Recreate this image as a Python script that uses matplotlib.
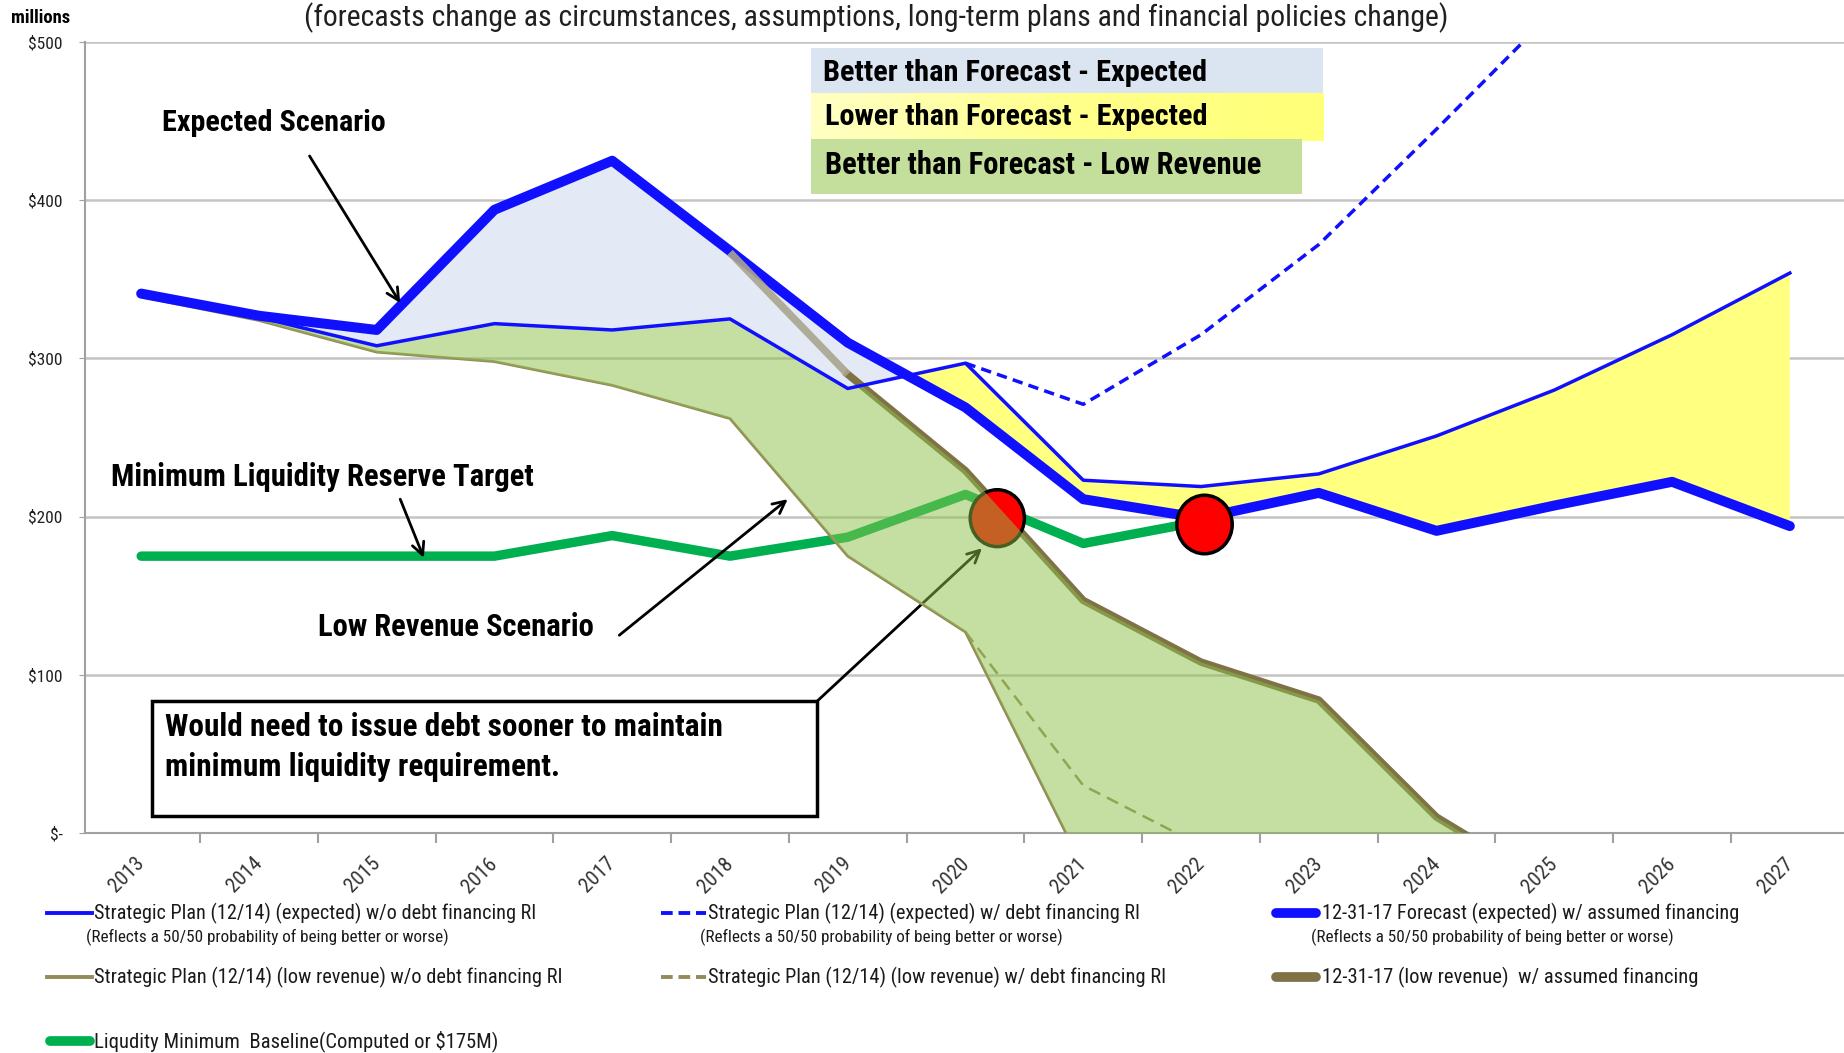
import numpy as np
import matplotlib
matplotlib.use("Agg")
import matplotlib.pyplot as plt
import matplotlib.font_manager as fm
from matplotlib.lines import Line2D
from matplotlib.patches import Ellipse, Rectangle, FancyArrowPatch
from matplotlib.transforms import ScaledTranslation
from matplotlib.colors import LinearSegmentedColormap

# ---------------- data (millions of $) ----------------
years = [2013, 2014, 2015, 2016, 2017, 2018, 2019, 2020, 2021, 2022, 2023, 2024, 2025, 2026, 2027]
year_labels = [str(y) for y in years]

plan_expected_no_debt = [341, 326, 308, 322, 318, 325, 281, 297, 223, 219, 227, 251, 280, 315, 354]
forecast_expected = [341, 327, 318, 394, 425, 368, 310, 269, 211, 199, 215, 191, 207, 222, 194]

plan_expected_debt_years = [2020, 2021, 2022, 2023, 2024, 2025, 2026, 2027]
plan_expected_debt = [297, 271, 315, 372, 445, 520, 590, 660]

plan_low_years = [2013, 2014, 2015, 2016, 2017, 2018, 2019, 2020, 2021]
plan_low_no_debt = [339, 324, 304, 298, 283, 262, 175, 127, -22]

plan_low_debt_years = [2020, 2021, 2022]
plan_low_debt = [127, 30, -8]

forecast_low_years = [2018, 2019, 2020, 2021, 2022, 2023, 2024, 2025]
forecast_low = [367, 290, 229, 147, 108, 84, 10, -35]

liquidity_years = [2013, 2014, 2015, 2016, 2017, 2018, 2019, 2020, 2021, 2022]
liquidity_min = [175, 175, 175, 175, 188, 175, 187, 214, 183, 197]

marker_x = [2020.27, 2022.03]
marker_y = [199, 195]

y_ticks = [0, 100, 200, 300, 400, 500]
y_tick_labels = ["$-", "$100", "$200", "$300", "$400", "$500"]

# ---------------- style ----------------
BLUE = "#1010ff"
OLIVE_THIN = "#958a5a"
OLIVE_THICK = "#7f7246"
GREEN = "#00b050"
LIGHTBLUE = "#e3eaf5"
YELLOW = "#ffff80"
GREENFILL = "#8dc149"

avail = {f.name for f in fm.fontManager.ttflist}
FONT = next((n for n in ["Roboto Condensed", "Liberation Sans Narrow", "Open Sans Condensed",
                         "Lato"] if n in avail), "DejaVu Sans")
plt.rcParams["font.family"] = [FONT, "DejaVu Sans"]

W, H = 1844, 1053
fig = plt.figure(figsize=(W / 100, H / 100), dpi=100)
ax = fig.add_axes([0.0459, 0.209, 0.9541, 0.751])
renderer = fig.canvas.get_renderer()


def fit(t, target_w):
    w = t.get_window_extent(renderer=renderer).width
    if w > 0:
        t.set_fontsize(t.get_fontsize() * target_w / w)
    return t


ax.set_xlim(2012.52, 2027.46)
ax.set_ylim(0, 500)

# axes styling
ax.set_yticks(y_ticks)
ax.set_yticklabels(y_tick_labels, fontsize=12.5, color="#202020")
ax.tick_params(axis="y", length=4, color="#a0a0a0", pad=12)
ax.yaxis.grid(True, color="#c4c4c4", lw=1.8)
ax.set_axisbelow(True)
ax.set_xticks(years)
ax.set_xticklabels(year_labels, rotation=45, ha="right", va="top", fontsize=15, color="#333333")
ax.set_xticks([y - 0.5 for y in years] + [years[-1] + 0.5], minor=True)
ax.tick_params(axis="x", which="major", length=0, pad=15)
ax.tick_params(axis="x", which="minor", length=7, width=1.5, color="#a0a0a0")
for lbl in ax.get_xticklabels():
    lbl.set_transform(lbl.get_transform() + ScaledTranslation(0.07, 0, fig.dpi_scale_trans))
for s in ["top", "right"]:
    ax.spines[s].set_visible(False)
for s in ["left", "bottom"]:
    ax.spines[s].set_color("#a0a0a0")
    ax.spines[s].set_linewidth(1.5)

# ---------------- fills ----------------
xs = np.linspace(years[0], years[-1], 2801)
tb = np.interp(xs, years, forecast_expected)
pb = np.interp(xs, years, plan_expected_no_debt)
ax.fill_between(xs, pb, tb, where=tb >= pb, interpolate=True, color=LIGHTBLUE, lw=0, zorder=1)
ax.fill_between(xs, tb, pb, where=pb >= tb, interpolate=True, color=YELLOW, lw=0, zorder=1)

po = np.where(xs <= plan_low_years[-1], np.interp(xs, plan_low_years, plan_low_no_debt), -1e9)
fo = np.interp(xs, forecast_low_years, forecast_low, left=1e9)
upper = np.minimum(pb, fo)
lower = np.maximum(po, 0)
ax.fill_between(xs, lower, upper, where=upper > lower, interpolate=True,
                color=GREENFILL, alpha=0.5, lw=0, zorder=3)

# ---------------- lines ----------------
ax.plot(liquidity_years, liquidity_min, color=GREEN, lw=6.8, solid_capstyle="round",
        solid_joinstyle="round", zorder=2)
ax.plot(plan_low_debt_years, plan_low_debt, color=OLIVE_THIN, lw=1.8, dashes=(5, 3), zorder=2.6)
ax.plot(plan_low_years, plan_low_no_debt, color=OLIVE_THIN, lw=2.0, solid_joinstyle="round", zorder=2.7)
ax.plot(forecast_low_years[1:], forecast_low[1:], color=OLIVE_THICK, lw=5.4,
        solid_joinstyle="round", zorder=2.7)
ax.plot(forecast_low_years[:2], forecast_low[:2], color="#aaa58f", lw=5.4, alpha=0.9,
        solid_capstyle="butt", zorder=5.5)

# circle under the green shading
e1 = Ellipse((marker_x[0], marker_y[0]), 0.46, 36, facecolor="#ff0000", edgecolor="black",
             lw=2.5, zorder=2.8)
ax.add_patch(e1)

ax.plot(years, plan_expected_no_debt, color=BLUE, lw=2.5, solid_joinstyle="round", zorder=4)
ax.plot(plan_expected_debt_years, plan_expected_debt, color=BLUE, lw=2.5, dashes=(3, 1.8), zorder=4)
ax.plot(years, forecast_expected, color=BLUE, lw=7.2, solid_joinstyle="round",
        solid_capstyle="round", zorder=5)

e2 = Ellipse((marker_x[1], marker_y[1]), 0.47, 37, facecolor="#ff0000", edgecolor="black",
             lw=2.5, zorder=6)
ax.add_patch(e2)

# ---------------- annotations ----------------
def arrow(p0, p1, z=7, color="black"):
    ax.add_patch(FancyArrowPatch(p0, p1, arrowstyle="->", mutation_scale=22, lw=2.0,
                                 color=color, zorder=z, shrinkA=0, shrinkB=0))

t = ax.text(2013.18, 449, "Expected Scenario", fontsize=20, fontweight="bold", va="center", zorder=7)
fit(t, 222)
arrow((2014.43, 428), (2015.2, 335))

t = ax.text(2012.74, 225, "Minimum Liquidity Reserve Target", fontsize=20, fontweight="bold",
            va="center", zorder=7)
fit(t, 422)
arrow((2015.2, 211), (2015.4, 174))

t = ax.text(2014.5, 130, "Low Revenue Scenario", fontsize=20, fontweight="bold", va="center", zorder=7)
fit(t, 276)
arrow((2017.06, 125), (2018.49, 211))

ax.add_patch(Rectangle((2013.09, 10.4), 2018.74 - 2013.09, 83.3 - 10.4, facecolor="white",
                       edgecolor="black", lw=2.5, zorder=7))
t1 = ax.text(2013.2, 67, "Would need to issue debt sooner to maintain", fontsize=20,
             fontweight="bold", va="center", zorder=8)
fit(t1, 555)
ax.text(2013.2, 41.7, "minimum liquidity requirement.", fontsize=t1.get_fontsize(),
        fontweight="bold", va="center", zorder=8)
arrow((2018.74, 83.3), (2020.14, 180), z=2)

# shaded key boxes
ax.add_patch(Rectangle((2018.69, 467.3), 2023.04 - 2018.69, 496.3 - 467.3, facecolor="#dbe5f1",
                       lw=0, zorder=7))
ycmap = LinearSegmentedColormap.from_list("yl", ["#ffffc4", "#ffff8c", "#ffff78"])
ax.imshow(np.linspace(0, 1, 256)[None, :], cmap=ycmap, aspect="auto",
          extent=(2018.69, 2023.04, 437.5, 467.3), zorder=7, interpolation="bilinear")
ax.add_patch(Rectangle((2018.69, 404), 2022.86 - 2018.69, 439 - 404, facecolor="#c4df9b",
                       lw=0, zorder=7.1))
ax.set_xlim(2012.52, 2027.46)
ax.set_ylim(0, 500)
kt = ax.text(2018.79, 480.6, "Better than Forecast - Expected", fontsize=20, fontweight="bold",
             va="center", zorder=8)
fit(kt, 383)
kt = ax.text(2018.81, 452.4, "Lower than Forecast - Expected", fontsize=20, fontweight="bold",
             va="center", zorder=8)
fit(kt, 381)
kt = ax.text(2018.81, 422.6, "Better than Forecast - Low Revenue", fontsize=20, fontweight="bold",
             va="center", zorder=8)
fit(kt, 435)

# ---------------- figure texts ----------------
t = fig.text(876 / W, 1 - 18 / H,
             "(forecasts change as circumstances, assumptions, long-term plans and financial policies change)",
             fontsize=19, ha="center", va="center", color="#202020")
fit(t, 1145)
t = fig.text(41 / W, 1 - 18 / H, "millions", fontsize=11, fontweight="bold", ha="center", va="center")
fit(t, 59)

# ---------------- legend (manual) ----------------
def leg_line(x0, x1, y, **kw):
    fig.add_artist(Line2D([x0 / W, x1 / W], [1 - y / H, 1 - y / H], transform=fig.transFigure, **kw))


def leg_text(x, y, s, target, size=13):
    tt = fig.text(x / W, 1 - y / H, s, fontsize=size, ha="left", va="center", color="#1a1a1a")
    fit(tt, target)
    return tt


r1, r1b, r2, r3 = 913, 937, 977, 1041
leg_line(47, 92, r1, color=BLUE, lw=2.8)
leg_text(94, r1, "Strategic Plan (12/14) (expected) w/o debt financing RI", 441)
leg_text(86, r1b, "(Reflects a 50/50 probability of being better or worse)", 361, 10)
leg_line(661, 706, r1, color=BLUE, lw=2.8, dashes=(3, 1.5))
leg_text(708, r1, "Strategic Plan (12/14) (expected) w/ debt financing RI", 430)
leg_text(700, r1b, "(Reflects a 50/50 probability of being better or worse)", 361, 10)
leg_line(1276, 1316, r1, color=BLUE, lw=7, solid_capstyle="round")
leg_text(1322, r1, "12-31-17 Forecast (expected) w/ assumed financing", 415)
leg_text(1311, r1b, "(Reflects a 50/50 probability of being better or worse)", 361, 10)

leg_line(47, 92, r2, color=OLIVE_THIN, lw=2.8)
leg_text(94, r2, "Strategic Plan (12/14) (low revenue) w/o debt financing RI", 466)
leg_line(661, 706, r2, color=OLIVE_THIN, lw=2.8, dashes=(3, 1.5))
leg_text(708, r2, "Strategic Plan (12/14) (low revenue) w/ debt financing RI", 456)
leg_line(1276, 1316, r2, color=OLIVE_THICK, lw=7, solid_capstyle="round")
leg_text(1322, r2, "12-31-17 (low revenue)  w/ assumed financing", 374)

leg_line(50, 90, r3, color=GREEN, lw=7, solid_capstyle="round")
leg_text(94, r3, "Liqudity Minimum  Baseline(Computed or $175M)", 403)

fig.savefig("out.png", dpi=100)
